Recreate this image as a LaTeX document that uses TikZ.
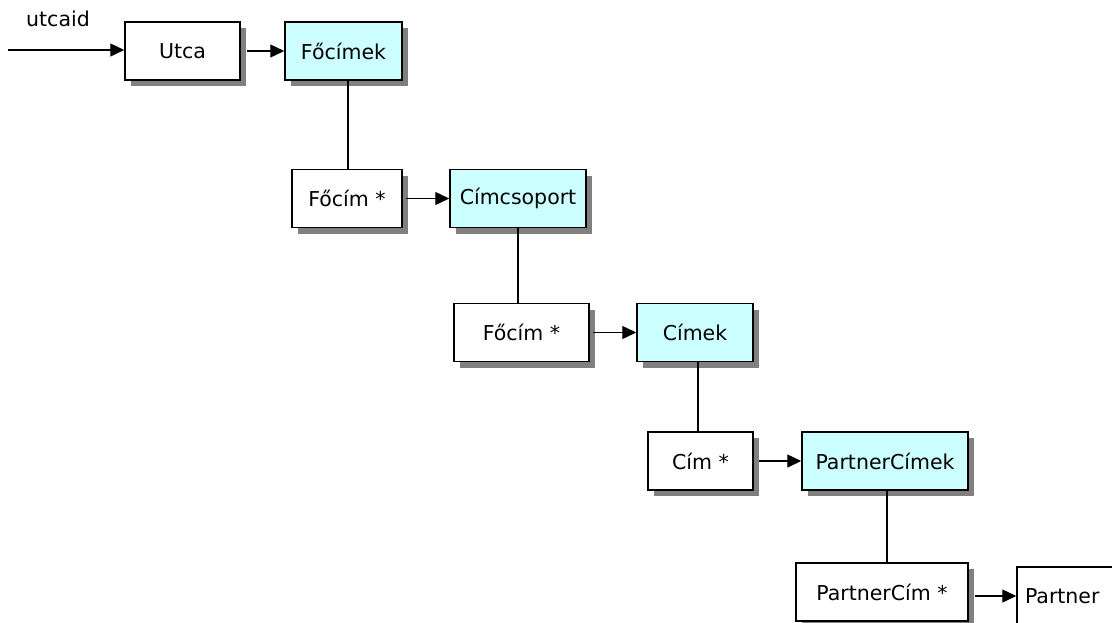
\documentclass[tikz,border=0pt]{standalone}
\usepackage{fontspec}
\setmainfont{DejaVu Sans}
\usetikzlibrary{arrows.meta,shadows}
\definecolor{boxcyan}{HTML}{CCFFFF}
\definecolor{shadowgray}{HTML}{808080}
\tikzset{
  ent/.style={draw=black, line width=1.5pt, fill=white, inner sep=0pt,
    minimum height=58pt, font=\fontsize{20.5}{24}\selectfont,
    drop shadow={shadow xshift=6pt, shadow yshift=-6pt, fill=shadowgray, opacity=1}},
  grp/.style={ent, fill=boxcyan},
  link/.style={line width=1.4pt, draw=black},
  arr/.style={link, -{Triangle[length=14pt,width=13pt]}}
}
\begin{document}
\begin{tikzpicture}[x=1pt,y=-1pt]
\useasboundingbox (0,0) rectangle (1112,622);
\clip (0,0) rectangle (1112,622);
\fill[white] (0,0) rectangle (1112,622);
% nodes (centres in pixel coordinates, y downward)
\node[ent, minimum width=115pt] (utca) at (182.5,51) {Utca};
\node[grp, minimum width=117pt] (focimek) at (343.5,51) {Főcímek};
\node[ent, minimum width=110pt] (focim1) at (347,198.5) {Főcím *};
\node[grp, minimum width=136pt] (cimcsoport) at (518,198.5) {Címcsoport};
\node[ent, minimum width=135pt] (focim2) at (521.5,332.5) {Főcím *};
\node[grp, minimum width=116pt] (cimek) at (695,332.5) {Címek};
\node[ent, minimum width=105pt] (cim) at (700.5,461) {Cím *};
\node[grp, minimum width=166pt] (partnercimek) at (885,461) {PartnerCímek};
\node[ent, minimum width=172pt] (partnercim) at (882,592) {PartnerCím *};
\node[ent, minimum width=114pt, text width=100pt, align=left] (partner) at (1074,596) {\hspace*{1pt}Partner};
\node[font=\fontsize{20.5}{24}\selectfont, inner sep=0pt] (lbl) at (58,19) {utcaid};
\coordinate (start) at (8,50);
% connectors
\draw[arr] (start) -- (utca.west |- start);
\draw[arr] ([xshift=6pt]utca.east) -- (focimek.west);
\draw[arr] ([xshift=3pt]focim1.east) -- (cimcsoport.west);
\draw[arr] ([xshift=3pt]focim2.east) -- (cimek.west);
\draw[arr] ([xshift=5pt]cim.east) -- (partnercimek.west);
\draw[arr] ([xshift=6pt]partnercim.east |- partner.west) -- (partner.west);
\draw[link] ([xshift=4.5pt]focimek.south) -- ([xshift=4.5pt]focimek.south |- focim1.north);
\draw[link] (cimcsoport.south) -- (cimcsoport.south |- focim2.north);
\draw[link] ([xshift=3pt]cimek.south) -- ([xshift=3pt]cimek.south |- cim.north);
\draw[link] ([xshift=2pt]partnercimek.south) -- ([xshift=2pt]partnercimek.south |- partnercim.north);
\end{tikzpicture}
\end{document}
